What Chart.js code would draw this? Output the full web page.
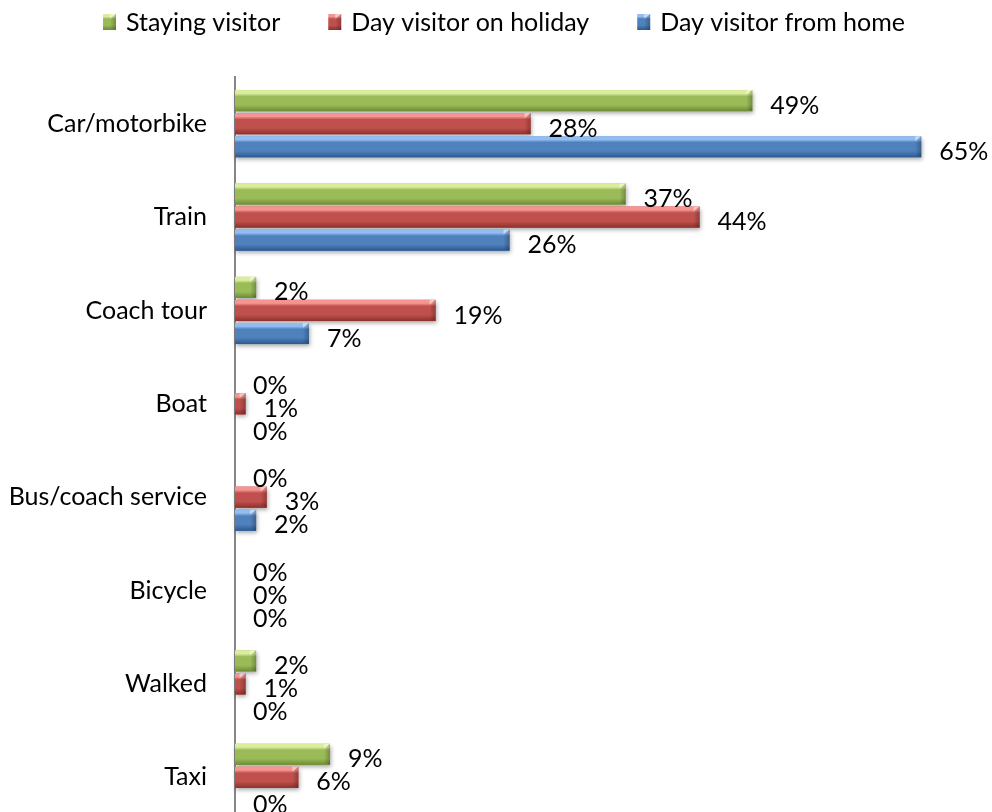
<!DOCTYPE html>
<html>
<head>
<meta charset="utf-8">
<title>Mode of transport</title>
<script src="https://cdn.jsdelivr.net/npm/chart.js@4.4.1/dist/chart.umd.min.js"></script>
<style>
  html, body { margin: 0; padding: 0; background: #fff; overflow: hidden; }
  /* taller than the window: the last group runs off the bottom edge */
  #wrap { position: relative; width: 992px; height: 867px; }
</style>
</head>
<body>
<div id="wrap"><canvas id="transportChart"></canvas></div>
<script>
// Mode of transport by visitor type

var categories = [
  'Car/motorbike',
  'Train',
  'Coach tour',
  'Boat',
  'Bus/coach service',
  'Bicycle',
  'Walked',
  'Taxi'
];
var seriesNames = ['Staying visitor', 'Day visitor on holiday', 'Day visitor from home'];
var stayingVisitor = [49, 37, 2, 0, 0, 0, 2, 9];
var dayVisitorHoliday = [28, 44, 19, 1, 3, 0, 1, 6];
var dayVisitorHome = [65, 26, 7, 0, 2, 0, 0, 0];

// base / highlight / shade for each series
var palette = [
  { base: '#9bbb59', light: '#d9ee9c', dark: '#6d8a34' },
  { base: '#c0504d', light: '#f59592', dark: '#8c302d' },
  { base: '#4f81bd', light: '#93bdf0', dark: '#2c5790' }
];

var FONT = 'Lato, "Open Sans", sans-serif';
var FONT_SIZE = 25;

function barRect(el) {
  var p = el.getProps(['x', 'y', 'base', 'height'], true);
  return {
    left: Math.min(p.base, p.x),
    right: Math.max(p.base, p.x),
    top: p.y - p.height / 2,
    bottom: p.y + p.height / 2
  };
}

// paints the shiny bevel look onto a rectangle
function bevelRect(ctx, r, col) {
  var w = r.right - r.left, h = r.bottom - r.top;
  if (w < 0.5) return;
  var g = ctx.createLinearGradient(0, r.top, 0, r.bottom);
  g.addColorStop(0, col.light);
  g.addColorStop(0.16, col.light);
  g.addColorStop(0.3, col.base);
  g.addColorStop(0.7, col.base);
  g.addColorStop(1, col.dark);
  ctx.fillStyle = g;
  ctx.fillRect(r.left, r.top, w, h);

  // right end cap
  var b = Math.min(6, w);
  var g2 = ctx.createLinearGradient(r.right - b, 0, r.right, 0);
  g2.addColorStop(0, 'rgba(0,0,0,0)');
  g2.addColorStop(1, 'rgba(0,0,0,0.25)');
  ctx.fillStyle = g2;
  ctx.beginPath();
  ctx.moveTo(r.right - b, r.top + b * 0.8);
  ctx.lineTo(r.right, r.top);
  ctx.lineTo(r.right, r.bottom);
  ctx.lineTo(r.right - b, r.bottom - 2);
  ctx.closePath();
  ctx.fill();

  ctx.fillStyle = 'rgba(255,255,255,0.45)';
  ctx.beginPath();
  ctx.moveTo(r.right - b, r.top);
  ctx.lineTo(r.right, r.top);
  ctx.lineTo(r.right - b, r.top + b * 0.8);
  ctx.closePath();
  ctx.fill();
}

var shinyBars = {
  id: 'shinyBars',
  beforeDatasetsDraw: function (chart) {
    var ctx = chart.ctx;
    ctx.save();
    ctx.filter = 'blur(2px)';
    ctx.fillStyle = 'rgba(0,0,0,0.35)';
    chart.data.datasets.forEach(function (ds, i) {
      chart.getDatasetMeta(i).data.forEach(function (el) {
        var r = barRect(el);
        if (r.right - r.left < 0.5) return;
        ctx.fillRect(r.left + 1, r.top + 3, r.right - r.left, r.bottom - r.top - 1);
      });
    });
    ctx.restore();
  },
  afterDatasetsDraw: function (chart) {
    var ctx = chart.ctx;
    ctx.save();
    chart.data.datasets.forEach(function (ds, i) {
      chart.getDatasetMeta(i).data.forEach(function (el) {
        bevelRect(ctx, barRect(el), palette[i]);
      });
    });
    ctx.restore();
  }
};

// value labels just right of each bar end
var valueLabels = {
  id: 'valueLabels',
  afterDatasetsDraw: function (chart) {
    var ctx = chart.ctx;
    ctx.save();
    ctx.font = FONT_SIZE + 'px ' + FONT;
    ctx.fillStyle = '#000';
    ctx.textAlign = 'left';
    ctx.textBaseline = 'middle';
    chart.data.datasets.forEach(function (ds, i) {
      chart.getDatasetMeta(i).data.forEach(function (el, j) {
        ctx.fillText(ds.data[j] + '%', el.x + 18, el.y + 5);
      });
    });
    ctx.restore();
  }
};

// legend row along the top
var topLegend = {
  id: 'topLegend',
  afterDraw: function (chart) {
    var ctx = chart.ctx;
    var boxW = 13, boxH = 16, gapText = 10, gapItem = 48, y = 22;
    ctx.save();
    ctx.font = FONT_SIZE + 'px ' + FONT;
    var widths = seriesNames.map(function (n) { return ctx.measureText(n).width; });
    var total = 0;
    widths.forEach(function (w, i) {
      total += boxW + gapText + w + (i ? gapItem : 0);
    });
    var x = chart.width / 2 + 8 - total / 2;
    ctx.textBaseline = 'middle';
    ctx.textAlign = 'left';
    seriesNames.forEach(function (n, i) {
      var r = { left: x, right: x + boxW, top: y - boxH / 2, bottom: y + boxH / 2 };
      bevelRect(ctx, r, palette[i]);
      ctx.fillStyle = '#000';
      ctx.fillText(n, x + boxW + gapText, y + 1);
      x += boxW + gapText + widths[i] + gapItem;
    });
    ctx.restore();
  }
};

var ctx = document.getElementById('transportChart').getContext('2d');
var transportChart = new Chart(ctx, {
  type: 'bar',
  plugins: [shinyBars, valueLabels, topLegend],
  data: {
    labels: categories,
    datasets: [
      { label: seriesNames[0], data: stayingVisitor, backgroundColor: palette[0].base },
      { label: seriesNames[1], data: dayVisitorHoliday, backgroundColor: palette[1].base },
      { label: seriesNames[2], data: dayVisitorHome, backgroundColor: palette[2].base }
    ]
  },
  options: {
    indexAxis: 'y',
    responsive: true,
    maintainAspectRatio: false,
    animation: false,
    categoryPercentage: 0.74,
    barPercentage: 0.92,
    layout: {
      padding: { top: 77, right: 18, bottom: 5, left: 0 }
    },
    plugins: {
      legend: { display: false },
      tooltip: { enabled: false }
    },
    scales: {
      x: {
        display: false,
        min: 0,
        max: 70
      },
      y: {
        grid: { display: false, drawTicks: false },
        border: { display: true, color: '#868686', width: 2 },
        ticks: {
          color: '#000',
          padding: 28,
          font: { family: FONT, size: FONT_SIZE }
        },
        afterFit: function (scale) {
          scale.width = 235;
        }
      }
    }
  }
});
</script>
</body>
</html>
